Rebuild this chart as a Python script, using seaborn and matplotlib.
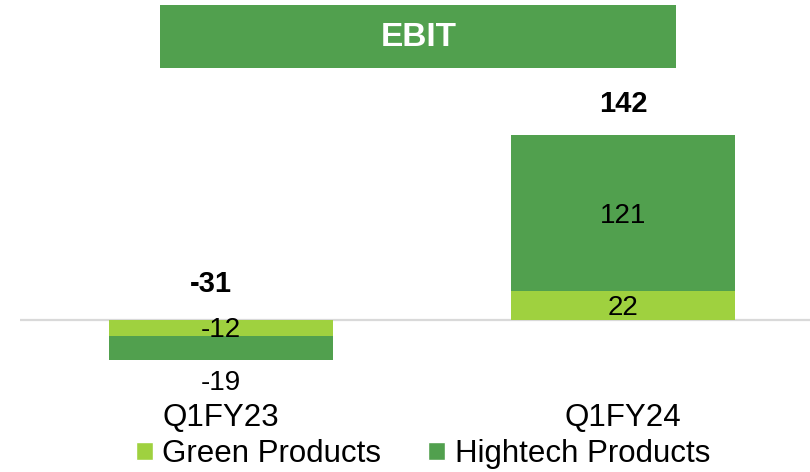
import matplotlib
matplotlib.use("Agg")
import matplotlib.pyplot as plt
from matplotlib.patches import Rectangle, Patch
import pandas as pd
import seaborn as sns

# data
quarters = ["Q1FY23", "Q1FY24"]
green = [-12, 22]
hightech = [-19, 121]
totals = [-31, 142]

GREEN_C = "#9FD13F"
HIGH_C = "#51A04E"

sns.set_theme(style="white")
plt.rcParams["font.family"] = ["Liberation Sans", "DejaVu Sans"]
plt.rcParams["text.color"] = "black"
plt.rcParams["xtick.color"] = "black"
plt.rcParams["xtick.labelcolor"] = "black"

df = pd.DataFrame({"quarter": quarters, "green": green, "hightech": hightech})
df["stack"] = df["green"] + df["hightech"]

fig = plt.figure(figsize=(8.1, 4.72), dpi=100)
ax = fig.add_axes([20 / 810, 72 / 472, 790 / 810, 320 / 472])

# full stack first, green segment drawn over it
sns.barplot(data=df, x="quarter", y="stack", color=HIGH_C, width=0.557,
            saturation=1, ax=ax, linewidth=0)
sns.barplot(data=df, x="quarter", y="green", color=GREEN_C, width=0.557,
            saturation=1, ax=ax, linewidth=0)

px = 1.296  # pixels per unit
ax.set_xlim(-0.5, 1.465)
ax.set_ylim(-(400 - 320) / px, (320 - 80) / px)
ax.axhline(0, color="#D9D9D9", lw=1.6, zorder=0)

# segment labels
for i, (g, h) in enumerate(zip(green, hightech)):
    ax.text(i, g / 2 - 1.5, str(g), ha="center", va="center", fontsize=20, color="black")
    if h > 0:
        ax.text(i, g + h / 2 - 2.5, str(h), ha="center", va="center", fontsize=20, color="black")
    else:
        ax.text(i, -48.5, str(h), ha="center", va="center", fontsize=20, color="black")

# total labels
for i, t in enumerate(totals):
    y = 167 if t > 0 else 28
    xo = 0 if t > 0 else -0.025
    ax.text(i + xo, y, str(t), ha="center", va="center", fontsize=21, fontweight="bold", color="black")

ax.set_xlabel("")
ax.set_ylabel("")
ax.set_yticks([])
ax.tick_params(axis="x", length=0, pad=2, labelsize=22.5, labelcolor="black")
for s in ax.spines.values():
    s.set_visible(False)

# title banner
fig.add_artist(Rectangle((160 / 810, 1 - 68 / 472), 516 / 810, 63 / 472,
                         transform=fig.transFigure, facecolor=HIGH_C, edgecolor="none"))
fig.text(419 / 810, 1 - 38 / 472, "EBIT", ha="center", va="center",
         fontsize=24, fontweight="bold", color="white")

handles = [Patch(facecolor=GREEN_C, label="Green Products"),
           Patch(facecolor=HIGH_C, label="Hightech Products")]
leg = fig.legend(handles=handles, loc="center", bbox_to_anchor=(423 / 810, 1 - 454 / 472),
                 ncol=2, frameon=False, fontsize=22.5, handlelength=0.55, handleheight=0.55,
                 handletextpad=0.3, columnspacing=1.5, borderaxespad=0)
for t in leg.get_texts():
    t.set_color("black")

fig.savefig("out.png", dpi=100)
